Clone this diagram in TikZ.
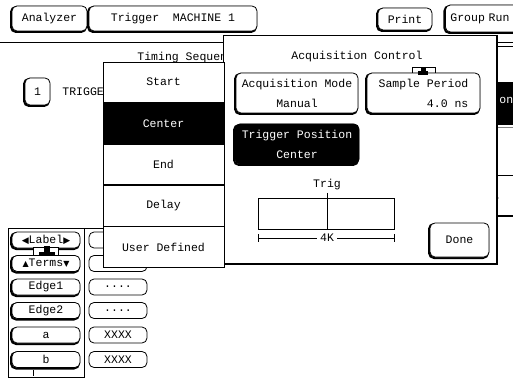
\documentclass[tikz,border=0pt]{standalone}
\usepackage{fontspec}
\setmonofont{Liberation Mono}
\newfontfamily\symfont{DejaVu Sans}
\usetikzlibrary{positioning}

\begin{document}
\begin{tikzpicture}[x=1pt, y=-1pt, line width=0.8pt,
		every node/.style={font=\ttfamily\fontsize{11.5}{20}\selectfont, inner sep=0pt},
		btn/.style={draw, fill=white, rounded corners=5pt,
			preaction={draw, line width=2pt, transform canvas={shift={(-1pt,-1pt)}}}},
		flatbtn/.style={draw, fill=white, rounded corners=5pt},
		menuitem/.style={draw, fill=white, minimum width=121pt, minimum height=40.4pt},
		rowbtn/.style={btn, minimum width=68pt, minimum height=16pt},
		valbtn/.style={flatbtn, minimum width=58pt, minimum height=16pt}]
		\useasboundingbox (0, 0) rectangle (513, 379);
		\clip (0, 0) rectangle (513, 379);

		\node[btn, minimum width=75pt, minimum height=25pt] (analyzer) at (49.5, 18.5) {Analyzer};
		\node[btn, minimum width=168pt, minimum height=25pt] (trigger) at (173, 18.5) {Trigger\ \ MACHINE 1};
		\node[btn, minimum width=54pt, minimum height=22pt] (print) at (405, 19) {Print};
		\node[btn, anchor=west, text width=76pt, inner xsep=5pt, minimum height=27pt] (grouprun) at (445, 18.5) {Group Run};

		\draw (0, 42.5) -- (513, 42.5);
		\draw (485, 46) -- (513, 46);

		\node[btn, minimum width=25pt, minimum height=27pt] (seqnum) at (37.5, 91.5) {1};
		\node[anchor=west] (seqtext) at (62, 92) {TRIGGER};
		\node[anchor=west] (seqtitle) at (137, 58) {Timing Sequence};

		\fill (470, 82) rectangle (513, 125);
		\node[anchor=west, text=white] (onlabel) at (499, 100) {on};
		\draw[gray] (470, 127) -- (513, 127);
		\draw (470, 175) -- (513, 175);
		\draw[line width=2pt] (470, 216) -- (513, 216);
		\fill (498, 198) circle (0.7pt);

		\draw (8, 228) -- (110, 228);
		\draw (8, 228) rectangle (84, 377);
		\node[rowbtn] (labelbtn) at (46, 240) {{\symfont\fontsize{9}{9}\selectfont ◀}Label{\symfont\fontsize{9}{9}\selectfont ▶}};
		\node[rowbtn] (termsbtn) at (46, 263.5) {{\symfont\fontsize{8}{8}\selectfont ▲}Terms{\symfont\fontsize{8}{8}\selectfont ▼}};
		\node[rowbtn] (edgeone) at (46, 287) {Edge1};
		\node[rowbtn] (edgetwo) at (46, 310.5) {Edge2};
		\node[rowbtn] (terma) at (46, 335) {a};
		\node[rowbtn] (termb) at (46, 359.5) {b};
		\draw[fill=white] (33, 247.5) rectangle (58, 255);
		\fill (39, 252) rectangle (55, 256);
		\fill (44, 246) rectangle (50, 252);
		\draw (33, 370) -- (33, 376);

		\node[valbtn] (labelval) at (118, 240) {L\hspace{40pt}};
		\node[valbtn] (termsval) at (118, 263.5) {};
		\node[valbtn] (edgeoneval) at (118, 287) {....};
		\node[valbtn] (edgetwoval) at (118, 310.5) {....};
		\node[valbtn] (termaval) at (118, 335) {XXXX};
		\node[valbtn] (termbval) at (118, 359.5) {XXXX};

		\draw[fill=white] (223, 35) rectangle (497, 263);
		\draw[line width=2pt] (497, 35) -- (497, 264) -- (223, 264);

		\node[menuitem] (start) at (163.5, 82.2) {Start};
		\node[menuitem, below=0pt of start, fill=black, text=white] (center) {Center};
		\node[menuitem, below=0pt of center] (end) {End};
		\node[menuitem, below=0pt of end] (delay) {Delay};
		\node[menuitem, below=0pt of delay] (userdef) {User Defined};

		\node (acqtitle) at (357, 57) {Acquisition Control};
		\node[btn, minimum width=122pt, minimum height=40pt, align=center] (acqmode) at (297, 93) {Acquisition Mode\\Manual};
		\node[btn, minimum width=113pt, minimum height=40pt, align=right] (sampleperiod) at (423.5, 93) {Sample Period\\4.0 ns};
		\draw (412, 73) -- (412, 67) -- (435, 67) -- (435, 73);
		\fill (418, 71) rectangle (428, 75);
		\fill (421, 68) rectangle (426, 71);
		\node[btn, fill=black, text=white, minimum width=124pt, minimum height=40pt, align=center] (trigpos) at (297, 144) {Trigger Position\\Center};

		\node (triglabel) at (327, 185) {Trig};
		\draw (258, 198) rectangle (394, 229);
		\draw (327, 193) -- (327, 229);
		\node[inner xsep=3pt] (depth) at (327, 238) {4K};
		\draw (258, 234) -- (258, 242);
		\draw (394, 234) -- (394, 242);
		\draw (258, 238) -- (depth.west);
		\draw (depth.east) -- (394, 238);

		\node[btn, minimum width=59pt, minimum height=34pt] (done) at (459.5, 240) {Done};
\end{tikzpicture}
\end{document}
